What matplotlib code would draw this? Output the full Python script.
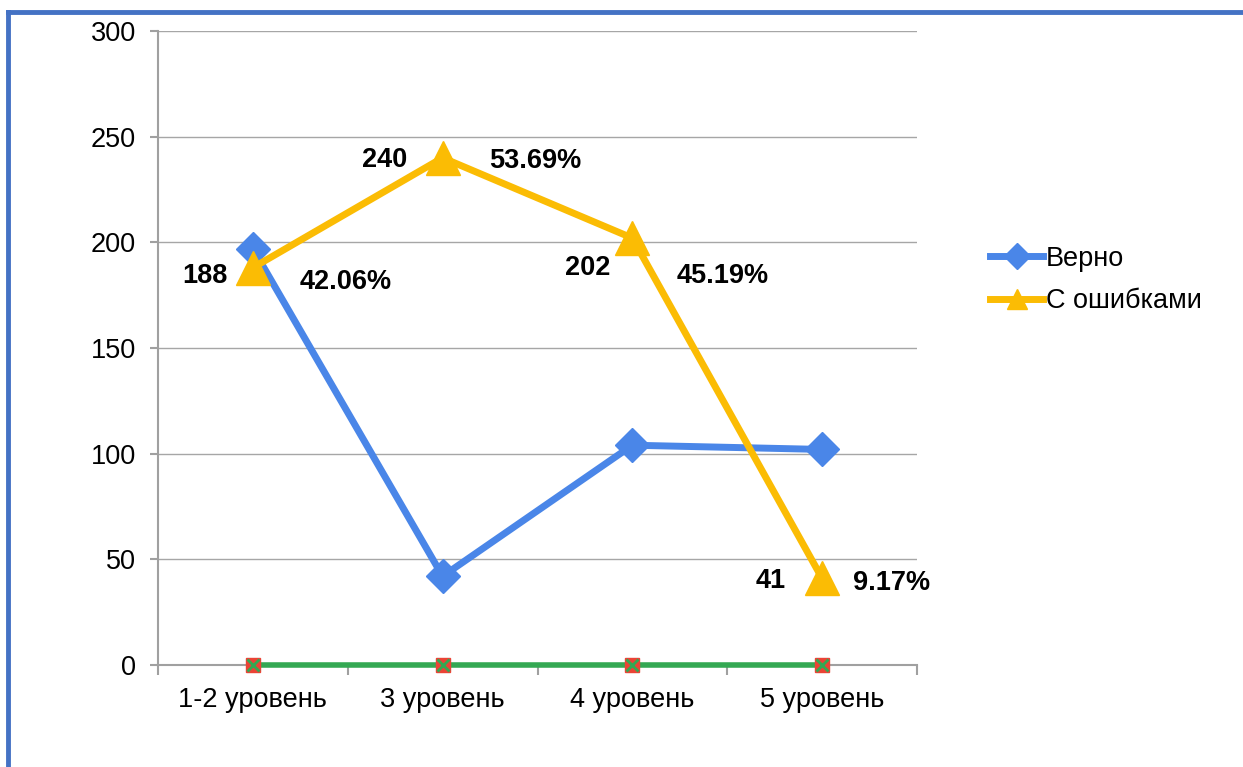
import matplotlib.pyplot as plt
from matplotlib.lines import Line2D

plt.rcParams['font.family'] = ['Liberation Sans', 'DejaVu Sans']

categories = ['1-2 уровень', '3 уровень', '4 уровень', '5 уровень']
verno = [197, 42, 104, 102]
s_oshibkami = [188, 240, 202, 41]
nuli = [0, 0, 0, 0]
procenty = ['42.06%', '53.69%', '45.19%', '9.17%']

blue = '#4A86E8'
yellow = '#FBBC04'
green = '#34A853'
red = '#EA4335'

fig = plt.figure(figsize=(12.43, 7.67), dpi=100)
ax = fig.add_axes([158 / 1243, 102 / 767, 759 / 1243, 634 / 767])

x = range(len(categories))
ax.plot(x, nuli, color=green, lw=4, marker='s', ms=10, mfc=red, mec=red, zorder=3, clip_on=False)
ax.plot(x, nuli, ls='none', marker='x', ms=9, mew=2, color=green, zorder=4, clip_on=False)
ax.plot(x, verno, color=blue, lw=5, marker='D', ms=17, zorder=5, label='Верно')
ax.plot(x, s_oshibkami, color=yellow, lw=5, marker='^', ms=24, zorder=6, label='С ошибками')

# подписи значений и процентов
sdvig_l = [(-48, -8), (-58, -2), (-45, -30), (-51, -3)]
sdvig_r = [(93, -14), (93, -3), (90, -38), (69, -5)]
for i, v in enumerate(s_oshibkami):
    ax.annotate(str(v), (i, v), xytext=sdvig_l[i], textcoords='offset pixels',
                ha='center', va='center', fontsize=19.5, fontweight='bold')
    ax.annotate(procenty[i], (i, v), xytext=sdvig_r[i], textcoords='offset pixels',
                ha='center', va='center', fontsize=19.5, fontweight='bold')

ax.set_xlim(-0.5, 3.5)
ax.set_ylim(0, 300)
ax.set_yticks(range(0, 301, 50))
ax.set_xticks(x)
ax.set_xticklabels(categories)
ax.set_xticks([-0.5, 0.5, 1.5, 2.5, 3.5], minor=True)
ax.tick_params(axis='x', which='major', length=0, pad=16, labelsize=19.5)
ax.tick_params(axis='x', which='minor', length=7, color='#A0A0A0', width=1.5, direction='out')
ax.tick_params(axis='y', length=6, color='#A0A0A0', width=1.5, labelsize=19.5, pad=10)
ax.grid(axis='y', color='#A6A6A6', lw=1)
ax.set_axisbelow(True)
for s in ['top', 'right']:
    ax.spines[s].set_visible(False)
for s in ['left', 'bottom']:
    ax.spines[s].set_color('#A0A0A0')
    ax.spines[s].set_linewidth(1.5)

handles = [Line2D([], [], color=blue, lw=5, marker='D', ms=13),
           Line2D([], [], color=yellow, lw=5, marker='^', ms=15)]
fig.legend(handles, ['Верно', 'С ошибками'], loc='center left',
           bbox_to_anchor=(0.777, 0.635), frameon=False, fontsize=19.5,
           handlelength=1.95, handletextpad=0.1, labelspacing=0.6)

# синяя рамка слева и сверху
fig.add_artist(Line2D([0.0064, 0.0064], [0, 0.985], color='#4472C4', lw=3.5, transform=fig.transFigure))
fig.add_artist(Line2D([0.0064, 1], [0.985, 0.985], color='#4472C4', lw=3.5, transform=fig.transFigure))

fig.savefig('out.png', dpi=100)
